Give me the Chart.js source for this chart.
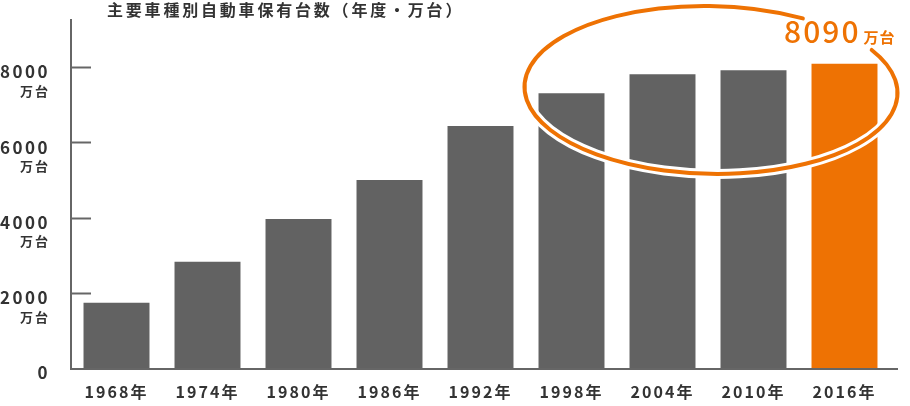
<!DOCTYPE html>
<html lang="ja">
<head>
<meta charset="utf-8">
<style>
  html, body { margin: 0; padding: 0; background: #fff; }
</style>
</head>
<body>
<canvas id="carStock" width="910" height="406"></canvas>
<script src="https://cdn.jsdelivr.net/npm/chart.js@4/dist/chart.umd.min.js"></script>
<script>
// ===== DATA =====
const years = ['1968年', '1974年', '1980年', '1986年', '1992年', '1998年', '2004年', '2010年', '2016年'];
const ownedCars = [1735, 2825, 3960, 4995, 6430, 7305, 7810, 7915, 8090];
const yTicks = [0, 2000, 4000, 6000, 8000];
const titleText = '主要車種別自動車保有台数（年度・万台）';
const unitText = '万台';

const GRAY = '#626262';
const ORANGE = '#ee7203';
const INK = '#333333';
const FONT = '"Noto Sans CJK JP", "Noto Sans", sans-serif';

// last year is highlighted in orange
const barColors = years.map((_, i) => i === years.length - 1 ? ORANGE : GRAY);

// ===== OVERLAY: title, y labels, ticks, ring + callout =====
const overlay = {
  id: 'overlay',
  beforeDraw(chart) {
    chart.ctx.letterSpacing = '2px';
  },
  afterDatasetsDraw(chart) {
    const { ctx, chartArea: a, scales: { x, y } } = chart;
    ctx.save();

    // bottom axis line (runs a bit past the last bar) + short inner ticks on y
    ctx.strokeStyle = '#666';
    ctx.lineWidth = 2;
    const by = Math.round(y.getPixelForValue(0)) + 1;
    ctx.beginPath();
    ctx.moveTo(a.left - 1, by);
    ctx.lineTo(a.right + 8, by);
    ctx.stroke();
    yTicks.forEach(v => {
      if (v === 0) return;
      const py = Math.round(y.getPixelForValue(v)) + 0.5;
      ctx.beginPath();
      ctx.moveTo(a.left, py);
      ctx.lineTo(a.left + 20, py);
      ctx.stroke();
    });

    // ring round the last four years, with a gap for the callout
    const i0 = 5, i1 = years.length - 1;
    const cx = (x.getPixelForValue(i0) + x.getPixelForValue(i1)) / 2 + 3;
    const rx = (x.getPixelForValue(i1) - x.getPixelForValue(i0)) / 2 + 50;
    const yTop = y.getPixelForValue(9620), yBot = y.getPixelForValue(5160);
    const cy = (yTop + yBot) / 2, ry = (yBot - yTop) / 2;
    const start = -31 * Math.PI / 180, end = 299 * Math.PI / 180;
    ctx.lineCap = 'round';
    ctx.beginPath();
    ctx.ellipse(cx, cy, rx, ry, 0.02, start, end);
    ctx.strokeStyle = '#fff';
    ctx.lineWidth = 10;
    ctx.stroke();
    ctx.beginPath();
    ctx.ellipse(cx, cy, rx, ry, 0.02, start, end);
    ctx.strokeStyle = ORANGE;
    ctx.lineWidth = 4;
    ctx.stroke();

    // callout value above the orange bar
    const last = ownedCars[i1];
    const bx = x.getPixelForValue(i1);
    const base = y.getPixelForValue(last) - 21;
    ctx.fillStyle = ORANGE;
    ctx.textBaseline = 'alphabetic';
    ctx.textAlign = 'right';
    ctx.letterSpacing = '2px';
    ctx.font = '500 30px ' + FONT;
    ctx.fillText(String(last), bx + 16, base);
    ctx.textAlign = 'left';
    ctx.letterSpacing = '1px';
    ctx.font = '700 15px ' + FONT;
    ctx.fillText(unitText, bx + 19, base);

    ctx.restore();
  },
  afterDraw(chart) {
    const { ctx, scales: { y } } = chart;
    ctx.save();
    ctx.fillStyle = INK;

    // title
    ctx.textAlign = 'left';
    ctx.textBaseline = 'middle';
    ctx.letterSpacing = '2.8px';
    ctx.font = '700 16px ' + FONT;
    ctx.fillText(titleText, 107, 10);

    // y labels: number plus unit underneath
    ctx.textAlign = 'right';
    yTicks.forEach(v => {
      const py = y.getPixelForValue(v);
      ctx.letterSpacing = '2.5px';
      ctx.font = '700 17px ' + FONT;
      ctx.fillText(String(v), 50, py + 5);
      if (v !== 0) {
        ctx.letterSpacing = '2px';
        ctx.font = '700 13px ' + FONT;
        ctx.fillText(unitText, 50, py + 24);
      }
    });
    ctx.restore();
  }
};

// ===== BAR CHART =====
new Chart(document.getElementById('carStock'), {
  type: 'bar',
  data: {
    labels: years,
    datasets: [{
      data: ownedCars,
      backgroundColor: barColors,
      borderWidth: 0,
      barPercentage: 0.725,
      categoryPercentage: 1.0,
    }]
  },
  options: {
    responsive: false,
    animation: false,
    layout: { padding: { top: 20, right: 20, left: 0, bottom: 0 } },
    plugins: {
      legend: { display: false },
      tooltip: { enabled: false },
    },
    scales: {
      x: {
        grid: { display: false, drawTicks: false },
        border: { display: false },
        ticks: {
          color: INK,
          padding: 14,
          maxRotation: 0,
          font: { family: FONT, size: 16, weight: '700' },
        },
        afterFit: (s) => { s.height = 38; },
      },
      y: {
        min: 0,
        max: 9250,
        grid: { display: false, drawTicks: false },
        border: { display: true, color: '#666', width: 2 },
        ticks: { display: false },
        afterBuildTicks: (s) => { s.ticks = yTicks.map(v => ({ value: v })); },
        afterFit: (s) => { s.width = 71; },
      }
    }
  },
  plugins: [overlay]
});
</script>
</body>
</html>
